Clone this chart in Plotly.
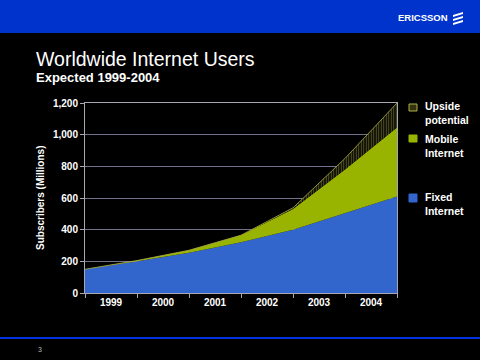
import plotly.graph_objects as go

# ---- data (millions of subscribers) ----
years = ["1999", "2000", "2001", "2002", "2003", "2004"]
fixed_internet = [150, 200, 255, 320, 400, 505, 610]
mobile_internet = [0, 5, 15, 45, 130, 275, 435]
upside_potential = [0, 0, 0, 0, 8, 70, 155]
y_ticks = [0, 200, 400, 600, 800, 1000, 1200]

x = list(range(len(fixed_internet)))   # year boundaries
label_pos = [i + 0.5 for i in range(len(years))]

FONT = "Arial, Liberation Sans, sans-serif"
BLUE_FIXED = "#3366CC"
GREEN_MOBILE = "#99B400"
OLIVE = "#b0b048"
GRID = "#72728c"
AXIS = "#a8a8b0"

fig = go.Figure()
fig.add_trace(go.Scatter(
    x=x, y=fixed_internet, name="Fixed Internet", stackgroup="s",
    mode="lines", line=dict(width=0, color=BLUE_FIXED), fillcolor=BLUE_FIXED))
fig.add_trace(go.Scatter(
    x=x, y=mobile_internet, name="Mobile Internet", stackgroup="s",
    mode="lines", line=dict(width=0, color=GREEN_MOBILE), fillcolor=GREEN_MOBILE))
fig.add_trace(go.Scatter(
    x=x, y=upside_potential, name="Upside potential", stackgroup="s",
    mode="lines", line=dict(width=0.8, color=OLIVE),
    fillpattern=dict(shape="|", fgcolor=OLIVE, bgcolor="black", size=2.5, solidity=0.45)))

W, H = 480, 360
L, R, T, B = 85, 83, 103, 67
pw, ph = W - L - R, H - T - B

def px(xp):
    return (xp - L) / pw

def py(yp):
    return (H - B - yp) / ph

fig.update_layout(
    width=W, height=H,
    margin=dict(l=L, r=R, t=T, b=B),
    paper_bgcolor="black", plot_bgcolor="black",
    showlegend=False,
    font=dict(family=FONT, color="white"),
    xaxis=dict(
        range=[0, len(years)], tickmode="array", tickvals=label_pos, ticktext=years,
        ticks="", showgrid=False, zeroline=False,
        showline=True, linecolor=AXIS, linewidth=1, mirror=True,
        tickfont=dict(family=FONT, size=10, color="white", weight="bold"),
        minor=dict(tickmode="array", tickvals=x, ticks="outside", ticklen=4,
                   tickcolor=AXIS, showgrid=False),
    ),
    yaxis=dict(
        range=[0, 1200], tickmode="array", tickvals=y_ticks, tickformat=",",
        ticks="outside", ticklen=4, tickcolor=AXIS,
        showgrid=True, gridcolor=GRID, gridwidth=1, zeroline=False,
        showline=True, linecolor=AXIS, linewidth=1, mirror=True,
        tickfont=dict(family=FONT, size=10, color="white", weight="bold"),
    ),
)

shapes = []
# top blue band
shapes.append(dict(type="rect", xref="paper", yref="paper",
                   x0=px(0), x1=px(W), y0=py(33), y1=py(0),
                   fillcolor="#0033CC", line=dict(width=0), layer="below"))
# bottom blue rule
shapes.append(dict(type="line", xref="paper", yref="paper",
                   x0=px(0), x1=px(W), y0=py(338), y1=py(338),
                   line=dict(color="#0033DD", width=2)))
# Ericsson logo stripes
for yy in (13, 17, 21):
    shapes.append(dict(type="path", xref="paper", yref="paper",
                       path=f"M {px(453)} {py(yy+2)} L {px(463)} {py(yy-1)} "
                            f"L {px(463)} {py(yy+1)} L {px(453)} {py(yy+4)} Z",
                       fillcolor="white", line=dict(width=0)))
# legend keys
keys = [
    (104, 111, "#33330f", OLIVE),
    (135, 142, GREEN_MOBILE, GREEN_MOBILE),
    (194, 202, BLUE_FIXED, BLUE_FIXED),
]
for y0, y1, fc, lc in keys:
    shapes.append(dict(type="rect", xref="paper", yref="paper",
                       x0=px(409), x1=px(417), y0=py(y1), y1=py(y0),
                       fillcolor=fc, line=dict(color=lc, width=1)))
fig.update_layout(shapes=shapes)

ann = []
ann.append(dict(text="Worldwide Internet Users", x=px(34), y=py(58.5), xref="paper", yref="paper",
                xanchor="left", yanchor="middle", showarrow=False,
                font=dict(family=FONT, size=19.5, color="white")))
ann.append(dict(text="Expected 1999-2004", x=px(34), y=py(77.5), xref="paper", yref="paper",
                xanchor="left", yanchor="middle", showarrow=False,
                font=dict(family=FONT, size=13, color="white", weight="bold")))
ann.append(dict(text="ERICSSON", x=px(396), y=py(18), xref="paper", yref="paper",
                xanchor="left", yanchor="middle", showarrow=False,
                font=dict(family=FONT, size=9.5, color="white", weight="bold")))
ann.append(dict(text="Subscribers (Millions)", x=px(40), y=py(198), xref="paper", yref="paper",
                xanchor="center", yanchor="middle", textangle=-90, showarrow=False,
                font=dict(family=FONT, size=10, color="white", weight="bold")))
ann.append(dict(text="3", x=px(36), y=py(349), xref="paper", yref="paper",
                xanchor="left", yanchor="middle", showarrow=False,
                font=dict(family=FONT, size=7, color="#bbbbbb")))
legend_text = [
    ("Upside<br>potential", 113),
    ("Mobile<br>Internet", 145.7),
    ("Fixed<br>Internet", 204.3),
]
for t, yc in legend_text:
    ann.append(dict(text=t, x=px(423), y=py(yc), xref="paper", yref="paper",
                    xanchor="left", yanchor="middle", align="left", showarrow=False,
                    font=dict(family=FONT, size=10.5, color="white", weight="bold")))
fig.update_layout(annotations=ann)

fig.write_html(
    "out.html",
    config={"displayModeBar": False},
    post_script="document.body.style.margin='0';document.body.style.background='black';",
)
